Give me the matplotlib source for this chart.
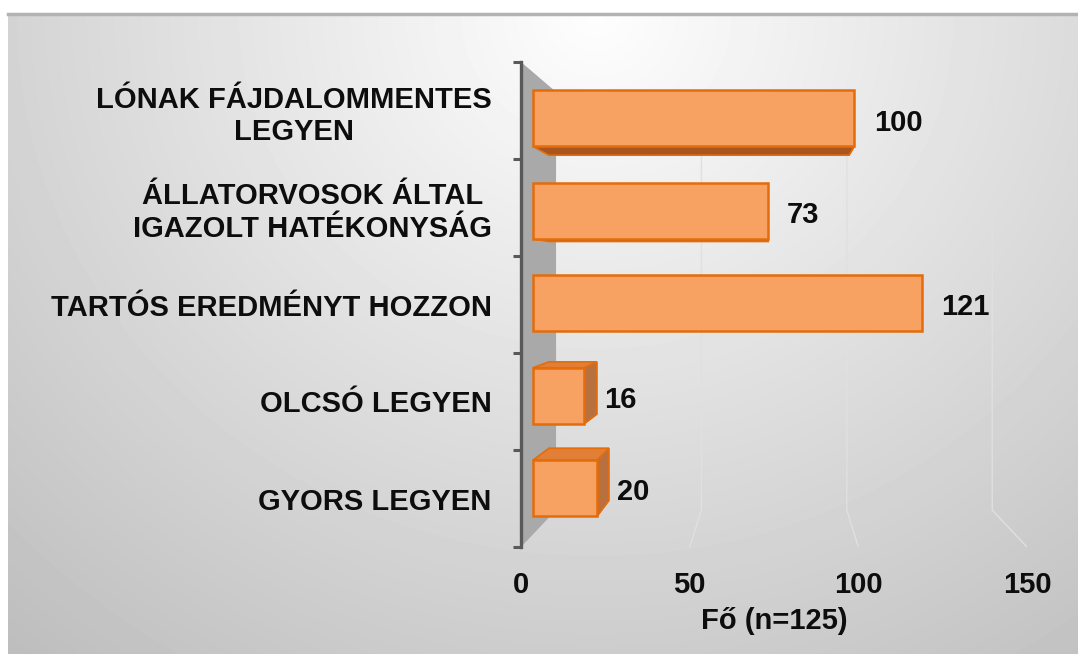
import numpy as np
import matplotlib
matplotlib.use("Agg")
import matplotlib.pyplot as plt
from matplotlib.patches import Polygon
from matplotlib.lines import Line2D

# ---------------- data ----------------
categories = ["GYORS LEGYEN",
              "OLCSÓ LEGYEN",
              "TARTÓS EREDMÉNYT HOZZON",
              "ÁLLATORVOSOK ÁLTAL\nIGAZOLT HATÉKONYSÁG",
              "LÓNAK FÁJDALOMMENTES\nLEGYEN"]
values = [20, 16, 121, 73, 100]
xticks = [0, 50, 100, 150]
xlabel = "Fő (n=125)"

# ---------------- style ----------------
plt.rcParams['font.family'] = ['Liberation Sans', 'DejaVu Sans']
FS = 21
W, H = 1078, 654
fig = plt.figure(figsize=(W / 100, H / 100), dpi=100)
fig.patch.set_facecolor('white')

# background panel with soft gradient
bg = fig.add_axes([8 / W, 0, 1 - 8 / W, (H - 14) / H])
ny, nx = 200, 300
yy, xx = np.mgrid[0:1:ny * 1j, 0:1:nx * 1j]
r = np.sqrt(((xx - 0.55) / 0.80) ** 2 + ((yy - 0.0) / 1.25) ** 2)
val = np.clip(0.995 - 0.24 * r, 0, 1)
bg.imshow(val, cmap='gray', vmin=0, vmax=1, extent=[0, 1, 1, 0], aspect='auto',
          interpolation='bicubic')
bg.set_xlim(0, 1)
bg.set_ylim(1, 0)
bg.axis('off')
fig.add_artist(Line2D([8 / W, 1], [1 - 14 / H] * 2, color='#b3b3b3', lw=2.5,
                      transform=fig.transFigure))

# main axes (front plane)
x0, x1, ytop, ybot = 521, 1027, 62, 547
ax = fig.add_axes([x0 / W, (H - ybot) / H, (x1 - x0) / W, (ybot - ytop) / H])
ax.set_xlim(xticks[0], xticks[-1])
n = len(categories)
ax.set_ylim(0, n)
ax.patch.set_alpha(0)

# perspective parameters (vanishing point in data coords, plane scales)
vx, vy = 75.3, 2.763
s_wall, s_bf, s_bb = 0.862, 0.953, 0.89


def P(s, x, y):
    return (vx + s * (x - vx), vy + s * (y - vy))


# side wall
ax.add_patch(Polygon([P(1, 0, 0), P(1, 0, n), P(s_wall, 0, n), P(s_wall, 0, 0)],
                     closed=True, facecolor='#a9a9a9', edgecolor='none', zorder=1))

# gridlines on back wall + floor
for t in xticks[1:]:
    pts = [P(s_wall, t, n), P(s_wall, t, 0), P(1, t, 0)]
    ax.plot([p[0] for p in pts], [p[1] for p in pts], color='#e0e0e0', lw=1.0,
            zorder=1, solid_joinstyle='miter')

# bars
hw = 0.303
front_c, edge_c = '#F7A262', '#E46C0A'
side_c, top_c, bottom_c = '#B8703F', '#E27F36', '#A9561E'
for i, v in enumerate(values):
    yc = i + 0.5
    y0, y1 = yc - hw, yc + hw
    if y1 < vy:
        ax.add_patch(Polygon([P(s_bf, 0, y1), P(s_bf, v, y1), P(s_bb, v, y1), P(s_bb, 0, y1)],
                             facecolor=top_c, edgecolor=edge_c, lw=1.2, zorder=2))
    if y0 > vy:
        ax.add_patch(Polygon([P(s_bf, 0, y0), P(s_bf, v, y0), P(s_bb, v, y0), P(s_bb, 0, y0)],
                             facecolor=bottom_c, edgecolor=edge_c, lw=1.2, zorder=2))
    if v < vx:
        ax.add_patch(Polygon([P(s_bf, v, y0), P(s_bf, v, y1), P(s_bb, v, y1), P(s_bb, v, y0)],
                             facecolor=side_c, edgecolor=edge_c, lw=1.2, zorder=2))
    ax.add_patch(Polygon([P(s_bf, 0, y0), P(s_bf, v, y0), P(s_bf, v, y1), P(s_bf, 0, y1)],
                         facecolor=front_c, edgecolor=edge_c, lw=1.8, zorder=3))
    ax.annotate(str(v), xy=P(s_bf, v, yc), xytext=(14, -3), textcoords='offset points',
                ha='left', va='center', fontsize=FS, fontweight='bold', color='#0d0d0d',
                zorder=4)

# axes decoration
for sp in ['top', 'right', 'bottom']:
    ax.spines[sp].set_visible(False)
ax.spines['left'].set_color('#595959')
ax.spines['left'].set_linewidth(2.4)
ax.spines['left'].set_zorder(5)

ax.set_yticks(np.arange(0, n + 1))
ax.set_yticklabels([])
ax.set_yticks(np.arange(n) + 0.5, minor=True)
ax.set_yticklabels(categories, minor=True, fontsize=FS, fontweight='bold',
                   color='#0d0d0d', multialignment='center')
ax.tick_params(axis='y', which='major', length=6, width=2.2, color='#595959', direction='out')
ax.tick_params(axis='y', which='minor', length=0, pad=21)

ax.set_xticks(xticks)
ax.set_xticklabels([str(t) for t in xticks], fontsize=FS, fontweight='bold', color='#0d0d0d')
ax.tick_params(axis='x', length=0, pad=17)
ax.set_xlabel(xlabel, fontsize=FS, fontweight='bold', color='#0d0d0d', labelpad=6)

fig.savefig('out.png', dpi=100)
